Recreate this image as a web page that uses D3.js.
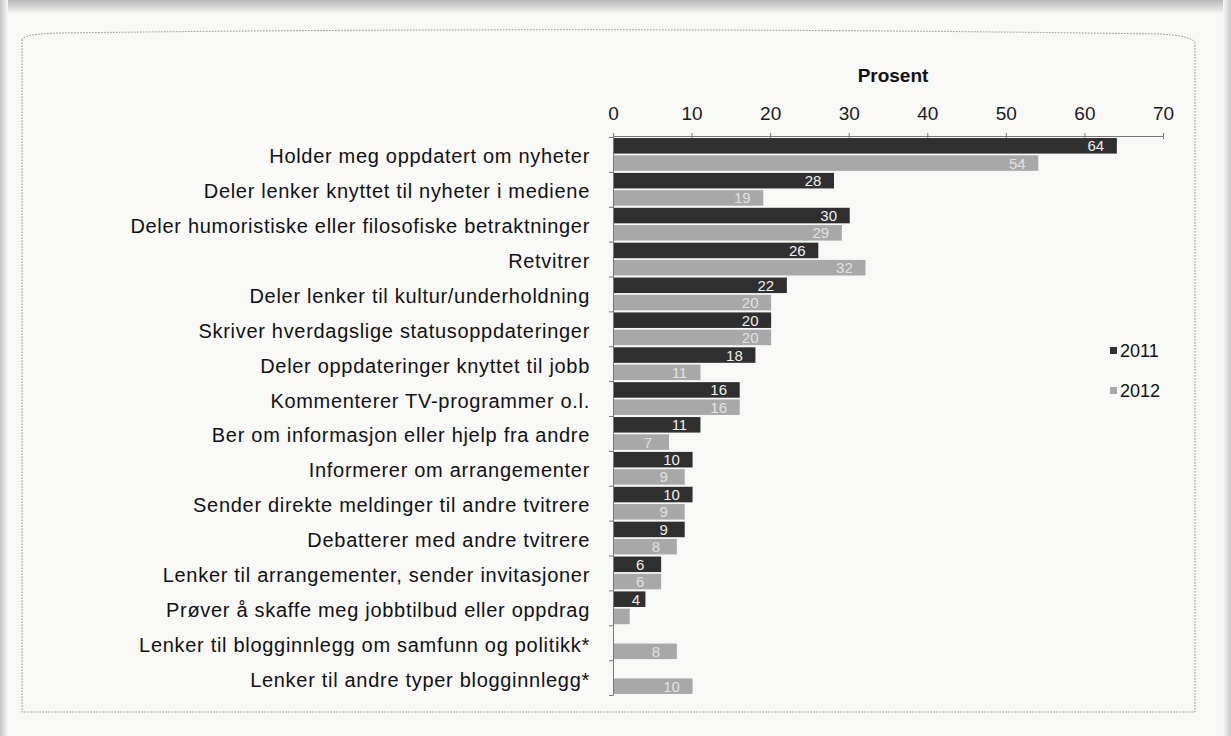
<!DOCTYPE html>
<html>
<head>
<meta charset="utf-8">
<script src="https://cdn.jsdelivr.net/npm/d3@7"></script>
<style>
html,body{margin:0;padding:0;background:#f8f8f6;}
svg{display:block;}
text{font-family:"Liberation Sans", Arial, sans-serif;}
</style>
</head>
<body>
<svg id="chart" width="1231" height="736"></svg>
<script>
const categories = [
  "Holder meg oppdatert om nyheter",
  "Deler lenker knyttet til nyheter i mediene",
  "Deler humoristiske eller filosofiske betraktninger",
  "Retvitrer",
  "Deler lenker til kultur/underholdning",
  "Skriver hverdagslige statusoppdateringer",
  "Deler oppdateringer knyttet til jobb",
  "Kommenterer TV-programmer o.l.",
  "Ber om informasjon eller hjelp fra andre",
  "Informerer om arrangementer",
  "Sender direkte meldinger til andre tvitrere",
  "Debatterer med andre tvitrere",
  "Lenker til arrangementer, sender invitasjoner",
  "Prøver å skaffe meg jobbtilbud eller oppdrag",
  "Lenker til blogginnlegg om samfunn og politikk*",
  "Lenker til andre typer blogginnlegg*"
];
const values2011 = [64, 28, 30, 26, 22, 20, 18, 16, 11, 10, 10, 9, 6, 4, null, null];
const values2012 = [54, 19, 29, 32, 20, 20, 11, 16, 7, 9, 9, 8, 6, 2, 8, 10];
const seriesNames = ["2011", "2012"];
const xTicks = [0, 10, 20, 30, 40, 50, 60, 70];
const axisTitle = "Prosent";

const svg = d3.select("#chart");

// page shading (photo of a printed page)
const defs = svg.append("defs");
const gTop = defs.append("linearGradient").attr("id","topShade").attr("x1",0).attr("y1",0).attr("x2",0).attr("y2",1);
gTop.append("stop").attr("offset","0%").attr("stop-color","#b8b8b8");
gTop.append("stop").attr("offset","100%").attr("stop-color","#f8f8f6");
const gLeft = defs.append("linearGradient").attr("id","leftShade").attr("x1",0).attr("y1",0).attr("x2",1).attr("y2",0);
gLeft.append("stop").attr("offset","0%").attr("stop-color","#c4c4c4");
gLeft.append("stop").attr("offset","100%").attr("stop-color","#f8f8f6");
const gRight = defs.append("linearGradient").attr("id","rightShade").attr("x1",1).attr("y1",0).attr("x2",0).attr("y2",0);
gRight.append("stop").attr("offset","0%").attr("stop-color","#c4c4c4");
gRight.append("stop").attr("offset","100%").attr("stop-color","#f8f8f6");
svg.append("rect").attr("x",0).attr("y",0).attr("width",1231).attr("height",14).attr("fill","url(#topShade)");
svg.append("rect").attr("x",0).attr("y",0).attr("width",8).attr("height",736).attr("fill","url(#leftShade)");
svg.append("rect").attr("x",1223).attr("y",0).attr("width",8).attr("height",736).attr("fill","url(#rightShade)");

// dotted frame
svg.append("path")
  .attr("d","M22,40 Q22,34 60,33 Q600,26 1160,34 Q1195,36 1195,44 L1195,712 L22,712 Z")
  .attr("fill","none").attr("stroke","#8a8a8a").attr("stroke-width",1).attr("stroke-dasharray","1.5,1.5");

const x0 = 613;
const x = d3.scaleLinear().domain([0, 70]).range([x0, 1163]);
const y = d3.scaleBand().domain(categories).range([137, 695]).paddingInner(0.06).paddingOuter(0.03);
const ySub = d3.scaleBand().domain(seriesNames).range([0, y.bandwidth()]).paddingInner(0.1);
const colors = {"2011":"#2f2f2f","2012":"#a8a8a8"};
const labelColors = {"2011":"#f0f0f0","2012":"#e2e2e2"};

// top axis
const xAxis = d3.axisTop(x).tickValues(xTicks).tickSize(4).tickSizeOuter(0).tickPadding(12);
const gx = svg.append("g").attr("transform","translate(0,136)").call(xAxis);
gx.select(".domain").attr("stroke","#777");
gx.selectAll(".tick line").attr("stroke","#777").attr("y2",-3).attr("y1",3);
gx.selectAll(".tick text").attr("font-size",19).attr("fill","#1a1a1a");

svg.append("text").attr("x", 893).attr("y", 82).attr("text-anchor","middle")
  .attr("font-size",19).attr("font-weight","bold").attr("fill","#111").text(axisTitle);

// left axis
const yAxis = d3.axisLeft(d3.scaleLinear().domain([0, categories.length]).range([137, 695]))
  .ticks(categories.length).tickFormat("").tickSize(4).tickSizeOuter(0);
const gy = svg.append("g").attr("transform",`translate(${x0},0)`).call(yAxis);
gy.select(".domain").attr("stroke","#777");
gy.selectAll(".tick line").attr("stroke","#777");

// category labels
svg.append("g").selectAll("text").data(categories).join("text")
  .attr("x", 590).attr("y", d => y(d) + y.bandwidth()/2 + 9)
  .attr("text-anchor","end").attr("font-size",20).attr("letter-spacing",0.7).attr("fill","#111")
  .text(d => d);

const rows = [];
categories.forEach((c, i) => {
  rows.push({cat:c, s:"2011", v:values2011[i]});
  rows.push({cat:c, s:"2012", v:values2012[i]});
});
const valid = rows.filter(d => d.v != null);

svg.append("g").selectAll("rect").data(valid).join("rect")
  .attr("x", x0 + 1)
  .attr("y", d => y(d.cat) + ySub(d.s))
  .attr("width", d => x(d.v) - x0)
  .attr("height", ySub.bandwidth())
  .attr("fill", d => colors[d.s]);

svg.append("g").selectAll("text").data(valid.filter(d => d.v >= 4)).join("text")
  .attr("x", d => Math.max(x(d.v) - 20, x0 + 23))
  .attr("y", d => y(d.cat) + ySub(d.s) + ySub.bandwidth()/2 + 5.5)
  .attr("text-anchor","middle").attr("font-size",15)
  .attr("fill", d => labelColors[d.s])
  .text(d => d.v);

// legend
const legend = svg.append("g");
seriesNames.forEach((s, i) => {
  const ly = 353 + i * 40;
  legend.append("rect").attr("x",1110).attr("y",ly-6).attr("width",7).attr("height",7).attr("fill",colors[s]);
  legend.append("text").attr("x",1120).attr("y",ly+4).attr("font-size",18).attr("fill","#111").text(s);
});
</script>
</body>
</html>
